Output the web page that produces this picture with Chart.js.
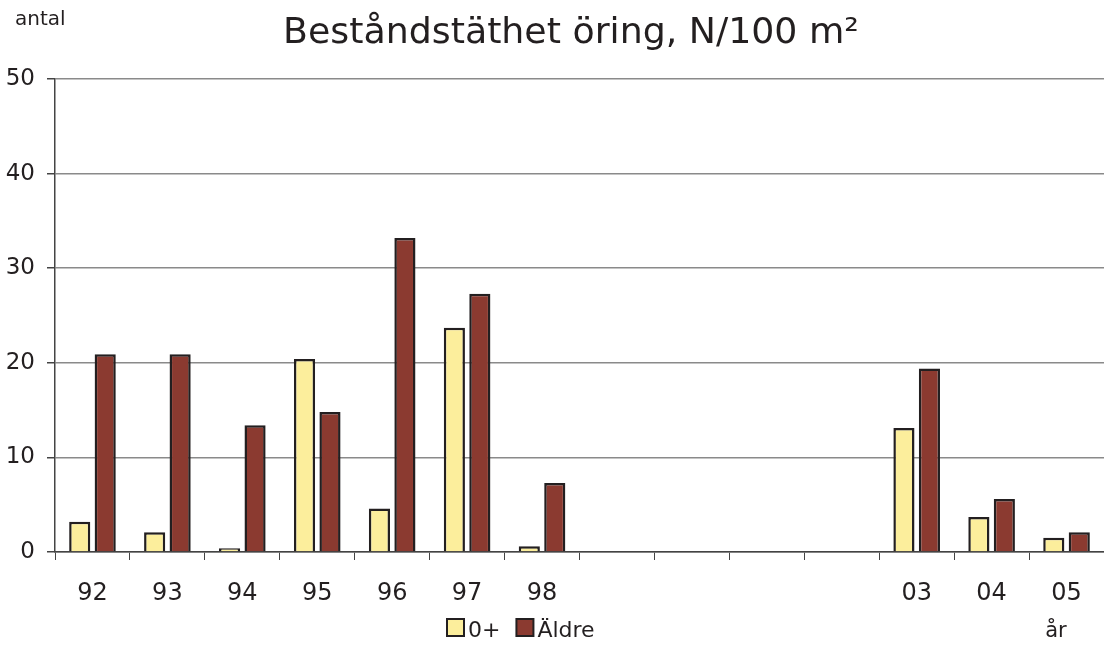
<!DOCTYPE html>
<html>
<head>
<meta charset="utf-8">
<script src="https://cdn.jsdelivr.net/npm/chart.js@4"></script>
<style>
html,body{margin:0;padding:0;background:#fff;}
#wrap{width:1104px;height:645px;position:relative;}
</style>
</head>
<body>
<div id="wrap"><canvas id="c" width="1104" height="645"></canvas></div>
<script>
const categories = ['92','93','94','95','96','97','98','99','00','01','02','03','04','05'];
const tickLabels = ['92','93','94','95','96','97','98','','','','','03','04','05'];
const seriesYoung = [3.2, 2.1, 0.4, 20.4, 4.6, 23.7, 0.6, null, null, null, null, 13.1, 3.7, 1.5];
const seriesOlder = [20.9, 20.9, 13.4, 14.8, 33.2, 27.3, 7.3, null, null, null, null, 19.4, 5.6, 2.1];
const seriesNames = ['0+', 'Äldre'];
const titleText = 'Beståndstäthet öring, N/100 m²';
const yAxisLabel = 'antal';
const xAxisLabel = 'år';
const yTicks = [0, 10, 20, 30, 40, 50];

const FONT = '"DejaVu Sans", "Liberation Sans", sans-serif';
const TXT = '#231f20';

const extras = {
  id: 'extras',
  afterDraw(chart) {
    const ctx = chart.ctx;
    ctx.save();
    ctx.fillStyle = TXT;
    ctx.textBaseline = 'alphabetic';
    // title, sized to span the same width as the reference
    ctx.font = '37px ' + FONT;
    let w = ctx.measureText(titleText).width;
    const tsize = Math.min(40, 37 * 576 / w);
    ctx.font = tsize.toFixed(1) + 'px ' + FONT;
    ctx.textAlign = 'center';
    ctx.fillText(titleText, 571, 43);
    // y label
    ctx.font = '20px ' + FONT;
    ctx.textAlign = 'left';
    ctx.fillText(yAxisLabel, 15, 25);
    // x label
    ctx.font = '21px ' + FONT;
    ctx.textAlign = 'center';
    ctx.fillText(xAxisLabel, 1056, 637);
    // legend
    const ds = chart.data.datasets;
    let x = 447;
    const yTop = 619, sz = 17;
    ctx.font = '22px ' + FONT;
    ctx.textAlign = 'left';
    ds.forEach((d, i) => {
      ctx.fillStyle = d.backgroundColor;
      ctx.fillRect(x, yTop, sz, sz);
      ctx.lineWidth = 2;
      ctx.strokeStyle = '#231f20';
      ctx.strokeRect(x, yTop, sz, sz);
      ctx.fillStyle = TXT;
      ctx.fillText(d.label, x + sz + 4, 637);
      x += sz + 4 + ctx.measureText(d.label).width + 16;
    });
    ctx.restore();
  }
};

new Chart(document.getElementById('c'), {
  type: 'bar',
  data: {
    labels: categories,
    datasets: [
      { label: seriesNames[0], data: seriesYoung, backgroundColor: '#fcee9c', borderColor: '#231f20', borderWidth: 2.5 },
      { label: seriesNames[1], data: seriesOlder, backgroundColor: '#8b3a30', borderColor: '#231f20', borderWidth: 2.5 }
    ]
  },
  options: {
    responsive: false,
    animation: false,
    devicePixelRatio: 1,
    layout: { padding: { top: 79, right: 0, left: 0, bottom: 0 } },
    plugins: { legend: { display: false }, title: { display: false }, tooltip: { enabled: false } },
    datasets: { bar: { categoryPercentage: 0.68, barPercentage: 0.83 } },
    scales: {
      x: {
        afterFit(s) { s.height = 93; },
        grid: { display: true, drawOnChartArea: false, drawTicks: true, tickLength: 8, color: '#444', offset: true },
        border: { display: true, color: '#444', width: 1.5 },
        ticks: {
          autoSkip: false, maxRotation: 0, padding: 19,
          font: { family: FONT, size: 24 }, color: TXT,
          callback: (v, i) => tickLabels[i]
        }
      },
      y: {
        min: 0, max: 50,
        afterFit(s) { s.width = 55; },
        afterBuildTicks(s) { s.ticks = yTicks.map(v => ({ value: v })); },
        grid: { color: '#8a8a8a', lineWidth: 1.5, drawTicks: true, tickLength: 8, tickColor: '#444' },
        border: { display: true, color: '#444', width: 1.5 },
        ticks: { padding: 12, font: { family: FONT, size: 23 }, color: TXT }
      }
    }
  },
  plugins: [extras]
});
</script>
</body>
</html>
